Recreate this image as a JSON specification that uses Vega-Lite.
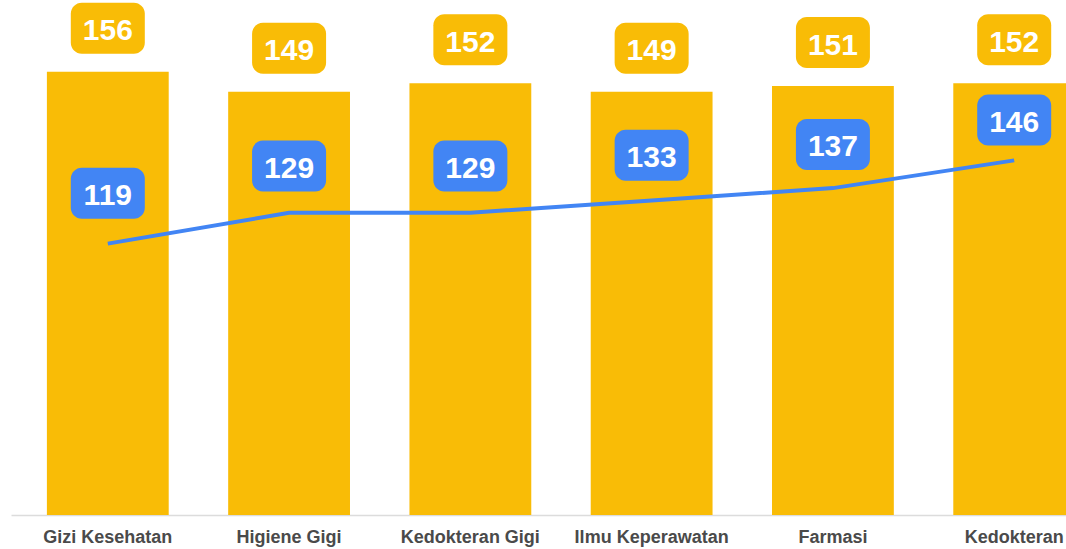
{
  "$schema": "https://vega.github.io/schema/vega-lite/v6.json",
  "width": 1066,
  "height": 515,
  "autosize": {"type": "none"},
  "padding": {"left": 0, "top": 0, "right": 0, "bottom": 34},
  "background": "#ffffff",
  "config": {"view": {"stroke": null}},
  "data": {
    "values": [
      {"prodi": "Gizi Kesehatan", "a": 156, "b": 119},
      {"prodi": "Higiene Gigi", "a": 149, "b": 129},
      {"prodi": "Kedokteran Gigi", "a": 152, "b": 129},
      {"prodi": "Ilmu Keperawatan", "a": 149, "b": 133},
      {"prodi": "Farmasi", "a": 151, "b": 137},
      {"prodi": "Kedokteran", "a": 152, "b": 146}
    ]
  },
  "encoding": {
    "x": {
      "field": "prodi",
      "type": "nominal",
      "sort": null,
      "scale": {"range": [11, 1111], "paddingInner": 0.328, "paddingOuter": 0.198},
      "axis": {
        "title": null,
        "ticks": false,
        "grid": false,
        "labelAngle": 0,
        "labelPadding": 13,
        "labelFont": "Liberation Sans",
        "labelFontSize": 18,
        "labelFontWeight": "bold",
        "labelColor": "#4a4a4a",
        "labelOverlap": false,
        "labelLimit": 0,
        "domainColor": "#dcdcdc",
        "domainWidth": 1.5
      }
    }
  },
  "layer": [
    {
      "layer": [
        {
          "mark": {"type": "bar", "color": "#F9BC06"},
          "encoding": {
            "y": {"field": "a", "type": "quantitative", "scale": {"domain": [0, 181.3], "nice": false}, "axis": null}
          }
        },
        {
          "mark": {"type": "bar", "color": "#F9BC06", "width": 74, "cornerRadius": 11, "yOffset": -69, "y2Offset": -18},
          "encoding": {
            "y": {"field": "a", "type": "quantitative", "scale": {"domain": [0, 181.3], "nice": false}, "axis": null},
            "y2": {"field": "a"}
          }
        },
        {
          "mark": {"type": "text", "color": "#ffffff", "font": "Liberation Sans", "fontWeight": "bold", "fontSize": 30, "baseline": "middle", "yOffset": -40.5},
          "encoding": {
            "y": {"field": "a", "type": "quantitative", "scale": {"domain": [0, 181.3], "nice": false}, "axis": null},
            "text": {"field": "a", "type": "quantitative"}
          }
        }
      ]
    },
    {
      "mark": {"type": "line", "color": "#4285F4", "strokeWidth": 4},
      "encoding": {
        "y": {"field": "b", "type": "quantitative", "scale": {"domain": [31, 198], "nice": false, "zero": false}, "axis": null}
      }
    },
    {
      "layer": [
        {
          "mark": {"type": "bar", "color": "#4285F4", "width": 74, "cornerRadius": 11, "yOffset": -25.5, "y2Offset": 25.5},
          "encoding": {
            "y": {"field": "b", "type": "quantitative", "scale": {"domain": [0, 190.4], "nice": false}, "axis": null},
            "y2": {"field": "b"}
          }
        },
        {
          "mark": {"type": "text", "color": "#ffffff", "font": "Liberation Sans", "fontWeight": "bold", "fontSize": 30, "baseline": "middle", "yOffset": 3},
          "encoding": {
            "y": {"field": "b", "type": "quantitative", "scale": {"domain": [0, 190.4], "nice": false}, "axis": null},
            "text": {"field": "b", "type": "quantitative"}
          }
        }
      ]
    }
  ],
  "resolve": {"scale": {"y": "independent"}}
}
